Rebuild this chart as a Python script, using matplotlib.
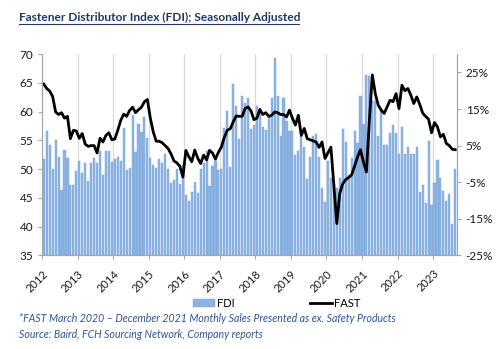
import matplotlib
matplotlib.use("Agg")
import matplotlib.pyplot as plt
import numpy as np
from matplotlib.lines import Line2D
from matplotlib.patches import Patch

plt.rcParams["font.family"] = ["Lato", "DejaVu Sans"]

years = ["2012", "2013", "2014", "2015", "2016", "2017", "2018", "2019", "2020", "2021", "2022", "2023"]

# FDI, seasonally adjusted (left axis), one list per year
fdi_2012 = [51.7, 56.7, 54.2, 50.1, 55.1, 52.1, 46.3, 53.4, 52.0, 47.2, 47.3, 49.6]
fdi_2013 = [51.4, 49.3, 51.1, 48.0, 51.1, 51.9, 51.1, 53.2, 48.9, 53.2, 53.1, 51.2]
fdi_2014 = [51.8, 52.1, 51.5, 57.1, 49.8, 50.2, 59.4, 53.0, 57.9, 56.5, 59.1, 55.4]
fdi_2015 = [52.0, 50.7, 50.2, 51.7, 51.1, 52.6, 50.1, 47.6, 48.2, 50.1, 47.5, 50.7]
fdi_2016 = [45.5, 44.4, 46.0, 47.7, 45.9, 50.1, 51.0, 53.2, 47.0, 50.6, 51.5, 49.9]
fdi_2017 = [50.1, 57.1, 60.1, 50.3, 64.8, 60.9, 55.2, 62.8, 61.5, 62.3, 56.9, 57.6]
fdi_2018 = [60.9, 59.9, 57.4, 56.8, 59.2, 62.4, 69.4, 62.7, 55.8, 62.4, 58.3, 56.6]
fdi_2019 = [56.6, 52.5, 53.1, 55.8, 53.8, 48.3, 52.1, 55.8, 56.1, 52.1, 46.8, 44.3]
fdi_2020 = [51.4, 48.5, 47.5, 46.8, 48.5, 56.9, 54.8, 49.0, 52.0, 56.6, 54.6, 62.7]
fdi_2021 = [57.9, 66.3, 66.2, 62.0, 61.8, 55.8, 60.5, 54.2, 54.2, 56.2, 57.7, 56.2]
fdi_2022 = [52.7, 57.4, 52.6, 53.9, 52.6, 52.6, 53.8, 46.1, 47.3, 44.1, 54.9, 43.7]
fdi_2023 = [47.6, 51.6, 48.5, 46.2, 44.5, 45.6, 40.5, 50.0]

# FAST monthly sales growth in % (right axis)
fast_2012 = [21.8, 20.6, 19.9, 18.4, 14.2, 13.5, 14.0, 12.5, 13.0, 6.9, 9.2, 9.0]
fast_2013 = [7.0, 8.3, 5.4, 4.8, 5.0, 5.0, 3.0, 7.0, 6.0, 7.8, 8.5, 6.6]
fast_2014 = [6.8, 9.2, 11.9, 13.6, 13.0, 14.6, 15.5, 14.0, 14.8, 15.5, 17.0, 17.6]
fast_2015 = [12.5, 8.7, 6.2, 6.2, 5.8, 5.0, 4.2, 2.7, 0.8, 0.3, -0.7, -3.6]
fast_2016 = [3.7, 2.0, 0.6, 3.8, 1.6, 0.1, 2.4, 1.1, 3.7, 3.0, 1.3, 3.2]
fast_2017 = [4.6, 7.3, 9.2, 9.6, 11.5, 13.1, 13.0, 13.0, 15.1, 15.6, 14.5, 12.1]
fast_2018 = [12.5, 14.9, 13.5, 14.0, 13.0, 13.3, 14.2, 14.0, 13.5, 13.5, 12.8, 14.7]
fast_2019 = [12.5, 10.6, 13.3, 7.8, 9.7, 6.9, 6.6, 6.3, 6.0, 4.5, 6.0, 1.5]
fast_2020 = [3.0, 4.6, -6.0, -16.3, -8.0, -5.4, -4.3, -3.7, -3.0, -0.6, 1.9, 3.9]
fast_2021 = [0.5, -2.2, 12.0, 24.3, 19.2, 16.0, 14.7, 13.8, 15.6, 17.4, 17.0, 19.2]
fast_2022 = [15.1, 21.5, 20.0, 20.6, 18.8, 16.5, 18.3, 16.3, 13.9, 13.0, 12.2, 8.5]
fast_2023 = [11.3, 10.1, 7.4, 8.1, 5.6, 5.0, 4.0, 3.9]

fdi = np.array(fdi_2012 + fdi_2013 + fdi_2014 + fdi_2015 + fdi_2016 + fdi_2017
               + fdi_2018 + fdi_2019 + fdi_2020 + fdi_2021 + fdi_2022 + fdi_2023)
fast = np.array(fast_2012 + fast_2013 + fast_2014 + fast_2015 + fast_2016 + fast_2017
                + fast_2018 + fast_2019 + fast_2020 + fast_2021 + fast_2022 + fast_2023)

months = np.arange(len(fdi)) + 0.5
tick_pos = np.arange(len(years)) * 12

fig = plt.figure(figsize=(5.0, 3.49), dpi=100)
ax = fig.add_axes([0.0846, 0.268, 0.8288, 0.577])

ax.bar(months, fdi, width=0.72, bottom=0, color="#8db4e2", edgecolor="#76a3da", linewidth=0.3)
ax.set_ylim(35, 70)
ax.set_xlim(0, len(fdi))
ax.set_yticks(np.arange(35, 71, 5))
ax.set_xticks(tick_pos)
ax.set_xticklabels(years, rotation=45, ha="right", va="top", rotation_mode="anchor")
ax.set_axisbelow(True)
ax.grid(axis="x", color="#d9d9d9", linewidth=0.9)

ax2 = ax.twinx()
ax2.plot(months, fast, color="black", linewidth=2.0, solid_joinstyle="round")
ax2.set_ylim(-25, 30)
ax2.set_yticks(np.arange(-25, 26, 10))
ax2.set_yticklabels([f"{v}%" for v in range(-25, 26, 10)])

for a in (ax, ax2):
    a.spines["top"].set_visible(False)
    for side in ("left", "right", "bottom"):
        a.spines[side].set_color("#a6a6a6")
        a.spines[side].set_linewidth(0.8)
    a.tick_params(colors="#a6a6a6", labelcolor="#1a1a1a", labelsize=8.5, length=3, width=0.8)
ax.tick_params(axis="x", labelsize=8, pad=6)

fig.text(0.038, 0.94, "Fastener Distributor Index (FDI); Seasonally Adjusted",
         fontsize=8.6, fontweight="bold", color="#1f3864", va="baseline")
fig.add_artist(Line2D([0.038, 0.598], [0.932, 0.932], color="#1f3864", linewidth=0.8))

handles = [Patch(facecolor="#8db4e2", edgecolor="#76a3da", linewidth=0.3),
           Line2D([0], [0], color="black", linewidth=2.0)]
fig.legend(handles, ["FDI", "FAST"], loc="center", bbox_to_anchor=(0.553, 0.131), ncol=2,
           frameon=False, fontsize=8, handlelength=2.0, handletextpad=0.2, columnspacing=6.75)

fig.text(0.038, 0.088, "*FAST March 2020 \u2013 December 2021 Monthly Sales Presented as ex. Safety Products",
         fontsize=7.6, style="italic", color="#2f5597", va="center")
fig.text(0.038, 0.042, "Source: Baird, FCH Sourcing Network, Company reports",
         fontsize=7.6, style="italic", color="#2f5597", va="center")

fig.savefig("out.png", dpi=100)
